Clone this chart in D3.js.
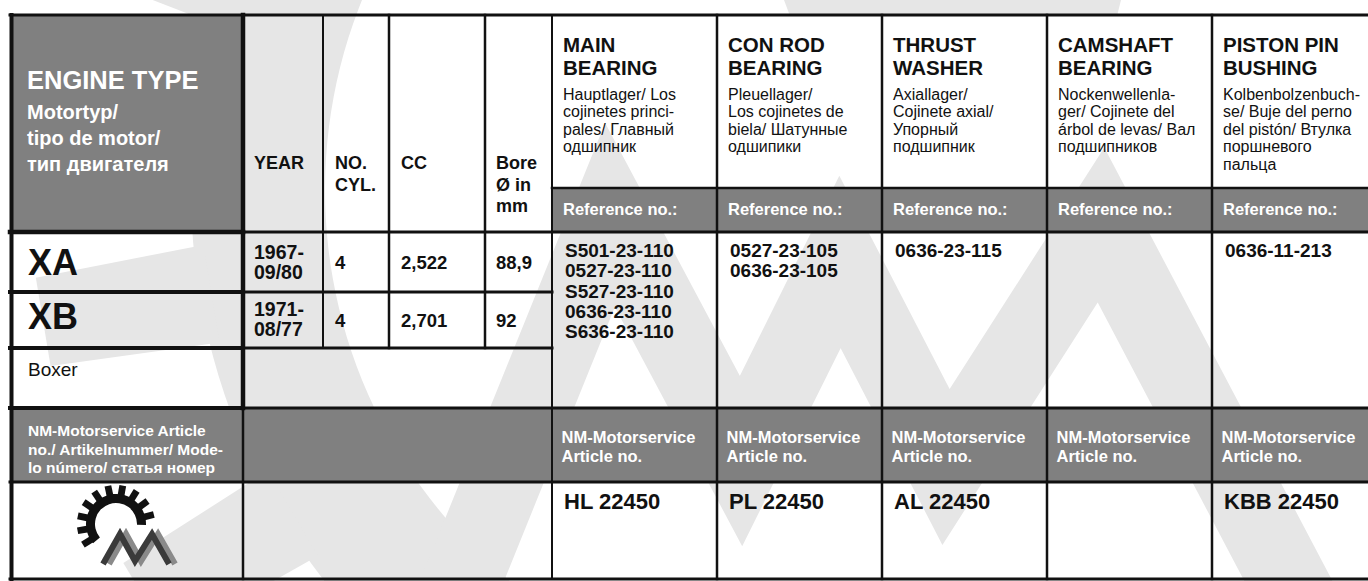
<!DOCTYPE html>
<html><head><meta charset="utf-8">
<script src="https://cdn.jsdelivr.net/npm/d3@7"></script>
<style>html,body{margin:0;padding:0;background:#fff;}svg{display:block}</style>
</head><body>
<svg id="c" width="1368" height="581"></svg>
<script>
// ---------------- data ----------------
const engineTypes = ["XA", "XB"];
const engineNote = "Boxer";
const yearRanges = [["1967-", "09/80"], ["1971-", "08/77"]];
const cylinders = ["4", "4"];
const displacementCC = ["2,522", "2,701"];
const boreMM = ["88,9", "92"];

const engineHeader = "ENGINE TYPE";
const engineHeaderSub = ["Motortyp/", "tipo de motor/", "тип двигателя"];
const specHeaders = [["YEAR"], ["NO.", "CYL."], ["CC"], ["Bore", "Ø in", "mm"]];

const partTitles = [["MAIN", "BEARING"], ["CON ROD", "BEARING"], ["THRUST", "WASHER"], ["CAMSHAFT", "BEARING"], ["PISTON PIN", "BUSHING"]];
const partSubtitles = [
  ["Hauptlager/ Los", "cojinetes princi-", "pales/ Главный", "одшипник"],
  ["Pleuellager/", "Los cojinetes de", "biela/ Шатунные", "одшипики"],
  ["Axiallager/", "Cojinete axial/", "Упорный", "подшипник"],
  ["Nockenwellenla-", "ger/ Cojinete del", "árbol de levas/ Вал", "подшипников"],
  ["Kolbenbolzenbuch-", "se/ Buje del perno", "del pistón/ Втулка", "поршневого", "пальца"]
];
const referenceLabel = "Reference no.:";
const referenceNumbers = [
  ["S501-23-110", "0527-23-110", "S527-23-110", "0636-23-110", "S636-23-110"],
  ["0527-23-105", "0636-23-105"],
  ["0636-23-115"],
  [],
  ["0636-11-213"]
];
const articleLabelLeft = ["NM-Motorservice Article", "no./ Artikelnummer/ Mode-", "lo número/ статья номер"];
const articleLabel = ["NM-Motorservice", "Article no."];
const articleNumbers = ["HL 22450", "PL 22450", "AL 22450", "", "KBB 22450"];

// ---------------- layout ----------------
const W = 1368, H = 581;
const FONT = "'Liberation Sans', Arial, Helvetica, sans-serif";
const colKeys = ["engine", "year", "cyl", "cc", "bore", "main", "conrod", "thrust", "cam", "pin"];
const x = d3.scaleOrdinal().domain(colKeys).range([10, 243, 323, 389, 485, 552, 717, 882, 1047, 1212]);
const xEnd = 1368;
const rowKeys = ["top", "ref", "xa", "xb", "boxer", "nm", "logo", "bottom"];
const y = d3.scaleOrdinal().domain(rowKeys).range([15, 188, 232, 292, 348, 408, 482, 579]);
const partKeys = colKeys.slice(5);
const specKeys = colKeys.slice(1, 5);

const svg = d3.select("#c");
svg.append("rect").attr("width", W).attr("height", H).attr("fill", "#fff");

// ---------------- watermark ----------------
const WM = "#e6e6e6";
const wm = svg.append("g");
const ringC = [831, 190];
const rad = d => d * Math.PI / 180;
wm.append("path").attr("transform", `translate(${ringC})`).attr("fill", WM)
  .attr("d", d3.arc()({innerRadius: 506, outerRadius: 640, startAngle: rad(-155), endAngle: rad(-45)}));
const toothAngles = [-70.5, -99.5, -121, -143];
const polar = (r, a) => [ringC[0] + r * Math.sin(rad(a)), ringC[1] - r * Math.cos(rad(a))];
toothAngles.forEach(a => {
  const pts = [polar(630, a - 4.5), polar(800, a - 3.2), polar(800, a + 3.2), polar(630, a + 4.5)];
  wm.append("path").attr("fill", WM).attr("d", d3.line()(pts) + "Z");
});
const zig = [[430, 660], [610, 215], [741, 461], [840, 262], [946, 467], [1101, 225], [1330, 660]];
wm.append("path").attr("d", d3.line()(zig)).attr("fill", "none").attr("stroke", WM)
  .attr("stroke-width", 78).attr("stroke-linejoin", "miter").attr("stroke-miterlimit", 10);
wm.append("path").attr("fill", WM).attr("d", d3.line()([[784, 0], [1121, 0], [1117, 16], [790, 16]]) + "Z");

// ---------------- fills ----------------
const GRAY = "#808080";
svg.append("rect").attr("x", x("engine")).attr("y", y("top")).attr("width", x("year") - x("engine")).attr("height", y("xa") - y("top")).attr("fill", GRAY);
svg.append("rect").attr("x", x("main")).attr("y", y("ref")).attr("width", xEnd - x("main")).attr("height", y("xa") - y("ref")).attr("fill", GRAY);
svg.append("rect").attr("x", x("engine")).attr("y", y("nm")).attr("width", xEnd - x("engine")).attr("height", y("logo") - y("nm")).attr("fill", GRAY);

// ---------------- lines ----------------
const LC = "#111";
const lines = svg.append("g").attr("stroke", LC).attr("stroke-linecap", "square");
const hl = (x1, x2, yy, w) => lines.append("line").attr("x1", x1).attr("x2", x2).attr("y1", yy).attr("y2", yy).attr("stroke-width", w);
const vl = (xx, y1, y2, w) => lines.append("line").attr("x1", xx).attr("x2", xx).attr("y1", y1).attr("y2", y2).attr("stroke-width", w);
hl(x("engine"), xEnd, y("top"), 3);
hl(x("main"), xEnd, y("ref"), 2.5);
hl(x("engine"), x("year"), y("xa"), 4.5);
hl(x("year"), xEnd, y("xa"), 3);
hl(x("engine"), x("year"), y("xb"), 4);
hl(x("year"), x("main"), y("xb"), 3);
hl(x("engine"), x("year"), y("boxer"), 4);
hl(x("year"), x("main"), y("boxer"), 3);
hl(x("engine"), x("year"), y("nm"), 4);
hl(x("year"), xEnd, y("nm"), 3);
hl(x("engine"), xEnd, y("logo"), 3);
hl(x("engine"), xEnd, y("bottom"), 3);
vl(x("engine") + 1.5, y("top"), y("bottom"), 4);
vl(x("year"), y("top"), y("nm"), 4.5);
vl(x("year"), y("nm"), y("bottom"), 2.5);
["cyl", "cc", "bore"].forEach(k => vl(x(k), y("top"), y("boxer"), k === "cyl" ? 2 : 2.5));
partKeys.forEach(k => vl(x(k), y("top"), y("bottom"), k === "main" ? 2 : 2.5));

// ---------------- text ----------------
const T = svg.append("g").attr("font-family", FONT);
function txt(lines, x0, y0, dy, size, weight, color) {
  lines.forEach((s, i) => {
    T.append("text").attr("x", x0).attr("y", y0 + i * dy).attr("font-size", size)
      .attr("font-weight", weight).attr("fill", color).text(s);
  });
}
// left header
txt([engineHeader], 27, 89, 0, 25.5, "bold", "#fff");
txt(engineHeaderSub, 27, 119, 26, 20, "bold", "#fff");
// spec headers
const specX = d3.scaleOrdinal().domain(specKeys).range([11, 12, 12, 11]);
specKeys.forEach((k, i) => txt(specHeaders[i], x(k) + specX(k), 169, 21.5, 18, "bold", "#111"));
// part headers
partKeys.forEach((k, i) => {
  txt(partTitles[i], x(k) + 11, 52, 23, 20.5, "bold", "#111");
  txt(partSubtitles[i], x(k) + 11, 100, 17.4, 16, "normal", "#111");
  txt([referenceLabel], x(k) + 11, 215, 0, 16.5, "bold", "#fff");
});
// engine rows
const rowBase = d3.scaleOrdinal().domain(engineTypes).range([275, 329]);
const valBase = d3.scaleOrdinal().domain(engineTypes).range([269, 327]);
const yearBase = d3.scaleOrdinal().domain(engineTypes).range([259, 316]);
engineTypes.forEach((e, i) => {
  txt([e], 28, rowBase(e), 0, 36, "bold", "#111");
  txt(yearRanges[i], x("year") + specX("year"), yearBase(e), 19.5, 19.5, "bold", "#111");
  txt([cylinders[i]], x("cyl") + specX("cyl"), valBase(e), 0, 18.5, "bold", "#111");
  txt([displacementCC[i]], x("cc") + specX("cc"), valBase(e), 0, 18.5, "bold", "#111");
  txt([boreMM[i]], x("bore") + specX("bore"), valBase(e), 0, 18.5, "bold", "#111");
});
txt([engineNote], 28, 376, 0, 19, "normal", "#111");
// reference numbers
partKeys.forEach((k, i) => txt(referenceNumbers[i], x(k) + 13, 257, 20.3, 19, "bold", "#111"));
// article rows
txt(articleLabelLeft, 28, 436, 18.5, 15.5, "bold", "#fff");
partKeys.forEach((k, i) => {
  txt(articleLabel, x(k) + 9.5, 443, 19, 16.5, "bold", "#fff");
  if (articleNumbers[i]) txt([articleNumbers[i]], x(k) + 12, 509, 0, 22, "bold", "#111");
});

// ---------------- logo ----------------
const logo = svg.append("g").attr("transform", "translate(116,524)");
logo.append("path").attr("fill", "#111")
  .attr("d", d3.arc()({innerRadius: 21, outerRadius: 30, startAngle: rad(-130), endAngle: rad(92)}));
d3.range(-122, 90, 22).forEach(a => {
  logo.append("rect").attr("x", -3.4).attr("y", -39).attr("width", 6.8).attr("height", 11)
    .attr("fill", "#111").attr("transform", `rotate(${a})`);
});
const nmDark = [[-13, 40], [4, 10], [19, 37], [36, 10], [53, 40]];
const nmLight = nmDark.map(p => [p[0] + 6, p[1]]);
logo.append("path").attr("d", d3.line()(nmLight)).attr("fill", "none").attr("stroke", "#8a8a8a").attr("stroke-width", 6).attr("stroke-linejoin", "miter");
logo.append("path").attr("d", d3.line()(nmDark)).attr("fill", "none").attr("stroke", "#3a3a3a").attr("stroke-width", 6).attr("stroke-linejoin", "miter");
</script>
</body></html>
